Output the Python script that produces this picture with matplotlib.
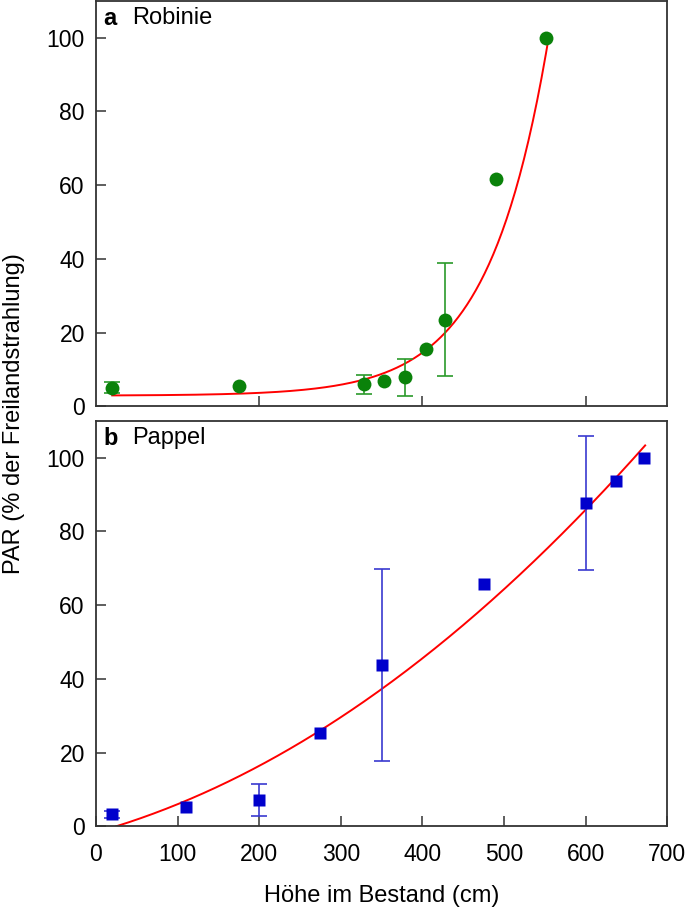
import numpy as np
import matplotlib
matplotlib.use("Agg")
import matplotlib.pyplot as plt

# Robinie (panel a)
rob_x = [20, 175, 328, 353, 379, 404, 428, 490, 551]
rob_y = [5.1, 5.5, 6.0, 7.0, 7.9, 15.6, 23.5, 61.8, 100.0]
rob_err = [1.6, 0, 2.6, 0, 5.0, 0, 15.3, 0, 0]
# exponential fit y = a + b*exp(c*x)
rob_fit = (2.9, 0.0486, 0.0137)
rob_fit_range = (20, 555)

# Pappel (panel b)
pap_x = [20, 110, 200, 274, 350, 475, 600, 637, 671]
pap_y = [3.2, 5.2, 7.2, 25.4, 43.7, 65.7, 87.8, 93.8, 99.9]
pap_err = [1.0, 0, 4.4, 0, 26.0, 0, 18.2, 0, 0]
# quadratic fit y = p0 + p1*x + p2*x^2
pap_fit = (-1.644, 0.0623, 1.392e-4)
pap_fit_range = (25, 673)

plt.rcParams['font.family'] = ['Liberation Sans', 'DejaVu Sans']

fig = plt.figure(figsize=(6.85, 9.07), dpi=100)
ax1 = fig.add_axes([0.140, 0.552, 0.834, 0.447])
ax2 = fig.add_axes([0.140, 0.089, 0.834, 0.447])

frame = '#333333'
for ax in (ax1, ax2):
    for s in ax.spines.values():
        s.set_color(frame)
        s.set_linewidth(1.3)
    ax.set_xlim(0, 700)
    ax.set_ylim(0, 110)
    ax.set_yticks([0, 20, 40, 60, 80, 100])
    ax.tick_params(direction='in', length=7, width=1.1, color=frame,
                   labelsize=16.5, pad=8)


def draw_err(ax, x, y, err, col):
    # only points that have a spread get an error bar
    xe = [xi for xi, e in zip(x, err) if e > 0]
    ye = [yi for yi, e in zip(y, err) if e > 0]
    ee = [e for e in err if e > 0]
    ax.errorbar(xe, ye, yerr=ee, fmt='none', ecolor=col,
                elinewidth=1.2, capsize=6, capthick=1.2, zorder=3)


# panel a
xs = np.linspace(rob_fit_range[0], rob_fit_range[1], 300)
a, b, c = rob_fit
ax1.plot(xs, a + b * np.exp(c * xs), color='red', lw=1.4, zorder=2)
draw_err(ax1, rob_x, rob_y, rob_err, '#2a9a2a')
ax1.plot(rob_x, rob_y, 'o', color='#0a820a', ms=10, mec='none', zorder=4)
ax1.set_xticks([200, 400, 600])
ax1.tick_params(axis='x', labelbottom=False)
ax1.text(0.013, 0.985, 'a', transform=ax1.transAxes, fontsize=17,
         fontweight='bold', va='top', ha='left')
ax1.text(0.064, 0.985, 'Robinie', transform=ax1.transAxes, fontsize=17,
         va='top', ha='left')

# panel b
xs = np.linspace(pap_fit_range[0], pap_fit_range[1], 300)
p0, p1, p2 = pap_fit
ax2.plot(xs, p0 + p1 * xs + p2 * xs ** 2, color='red', lw=1.4, zorder=2)
draw_err(ax2, pap_x, pap_y, pap_err, '#3a3ad0')
ax2.plot(pap_x, pap_y, 's', color='#0000cc', ms=8.5, mec='none', zorder=4)
ax2.set_xticks(range(0, 701, 100))
ax2.tick_params(axis='x', pad=12)
ax2.text(0.013, 0.985, 'b', transform=ax2.transAxes, fontsize=17,
         fontweight='bold', va='top', ha='left')
ax2.text(0.064, 0.985, 'Pappel', transform=ax2.transAxes, fontsize=17,
         va='top', ha='left')
ax2.set_xlabel('Höhe im Bestand (cm)', fontsize=17, labelpad=14)

fig.text(0.021, 0.544, 'PAR (% der Freilandstrahlung)', rotation=90,
         fontsize=17, va='center', ha='center')

fig.savefig('out.png', dpi=100)
